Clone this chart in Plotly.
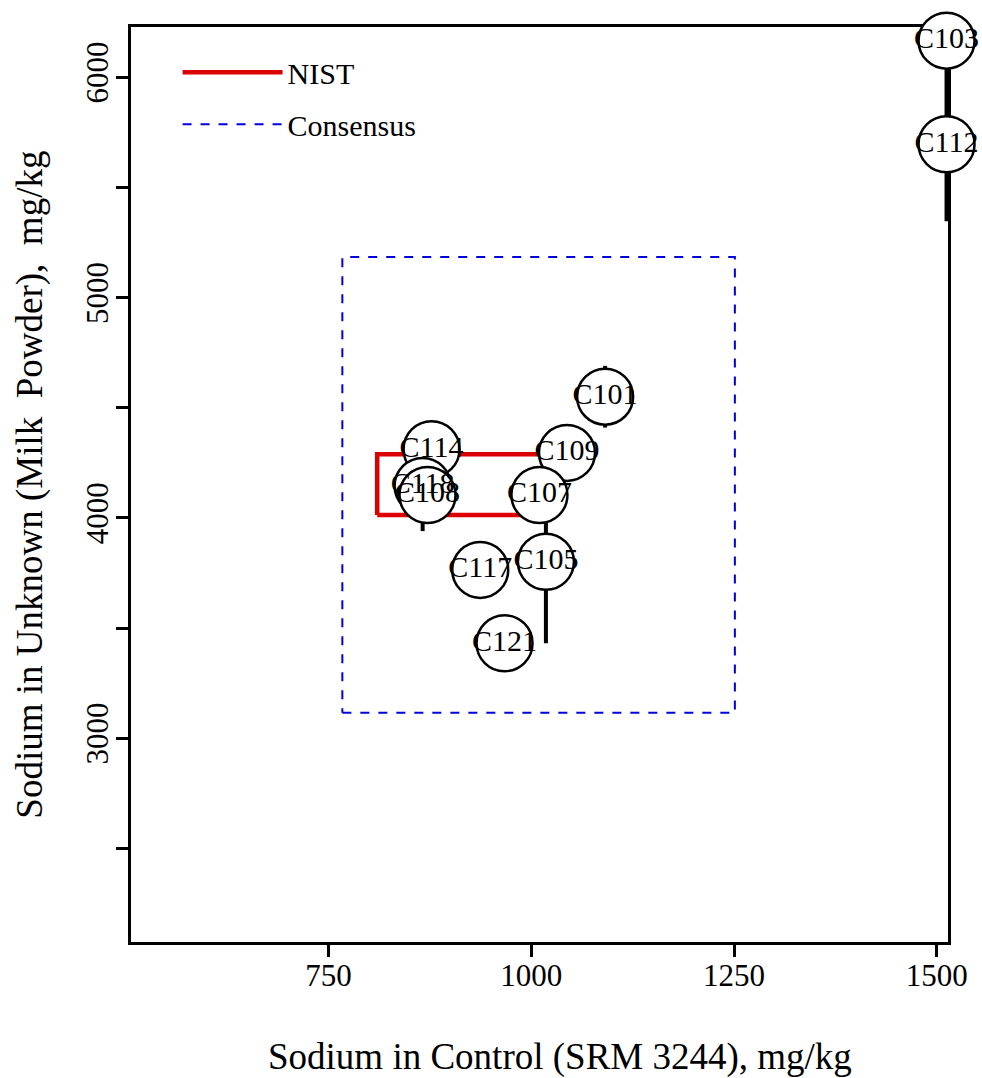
import plotly.graph_objects as go

# Lab results (x: Control SRM 3244, y: Unknown milk powder), mg/kg
labs = ["C101", "C109", "C114", "C118", "C108", "C107", "C117", "C105", "C121", "C103", "C112"]
control = [1091, 1044, 877, 866, 872, 1010, 937, 1018, 967, 1512, 1512]
unknown = [4550, 4295, 4312, 4145, 4104, 4104, 3764, 3801, 3431, 6166, 5696]
unknown_err = [140, 0, 0, 205, 0, 0, 0, 370, 0, 0, 350]

# NIST and consensus boxes (x range, y range)
nist_x = [810, 1017]
nist_y = [4013, 4289]
cons_x = [767, 1251]
cons_y = [3115, 5184]

x_ticks = [750, 1000, 1250, 1500]
y_ticks = [2500, 3000, 3500, 4000, 4500, 5000, 5500, 6000]
y_ticktext = ["", "3000", "", "4000", "", "5000", "", "6000"]

FONT = "Liberation Serif"


def rect(xr, yr):
    xs = [xr[0], xr[1], xr[1], xr[0], xr[0]]
    ys = [yr[0], yr[0], yr[1], yr[1], yr[0]]
    return xs, ys


fig = go.Figure()

nx, ny = rect(nist_x, nist_y)
fig.add_trace(go.Scatter(x=nx, y=ny, mode="lines", name="NIST",
                         line=dict(color="#dd0000", width=4.5),
                         legendgroup="a", cliponaxis=False))
cx, cy = rect(cons_x, cons_y)
fig.add_trace(go.Scatter(x=cx, y=cy, mode="lines", name="Consensus",
                         line=dict(color="#0000dd", width=2, dash="dash"),
                         legendgroup="b", cliponaxis=False))

fig.add_trace(go.Scatter(
    x=control, y=unknown, mode="markers+text", text=labs,
    textposition="middle center",
    textfont=dict(family=FONT, size=30, color="black"),
    marker=dict(size=56, color="white", line=dict(color="black", width=2.5)),
    error_y=dict(type="data", array=unknown_err, visible=True,
                 thickness=4, width=0, color="black"),
    showlegend=False, cliponaxis=False))

axis_common = dict(showline=True, mirror=True, linecolor="black", linewidth=2.5,
                   ticks="outside", ticklen=12, tickwidth=2.5, tickcolor="black",
                   showgrid=False, zeroline=False, layer="below traces",
                   tickfont=dict(family=FONT, size=31, color="black"))

fig.update_layout(
    width=982, height=1078,
    margin=dict(l=131, r=33.5, t=27, b=136),
    paper_bgcolor="white", plot_bgcolor="white",
    xaxis=dict(range=[506.4, 1513.8], tickvals=x_ticks, ticklabelstandoff=-8,
               **axis_common),
    yaxis=dict(range=[2075, 6228], tickvals=y_ticks, ticktext=y_ticktext,
               tickangle=-90, ticklabelstandoff=-4, **axis_common),
    legend=dict(x=0.057, y=0.979, xanchor="left", yanchor="top",
                bgcolor="rgba(0,0,0,0)", itemwidth=100, tracegroupgap=10,
                font=dict(family=FONT, size=30, color="black")),
    annotations=[
        dict(text="Sodium in Control (SRM 3244), mg/kg", xref="paper", yref="paper",
             x=0.5248, y=-0.1257, showarrow=False, xanchor="center", yanchor="middle",
             font=dict(family=FONT, size=37, color="black")),
        dict(text="Sodium in Unknown (Milk  Powder),  mg/kg", xref="paper", yref="paper",
             x=-0.1240, y=0.4995, showarrow=False, xanchor="center", yanchor="middle",
             textangle=-90, font=dict(family=FONT, size=37, color="black")),
    ],
)

fig.write_html("out.html", config={"displayModeBar": False},
               post_script="document.body.style.margin='0';document.body.style.overflow='hidden';")
